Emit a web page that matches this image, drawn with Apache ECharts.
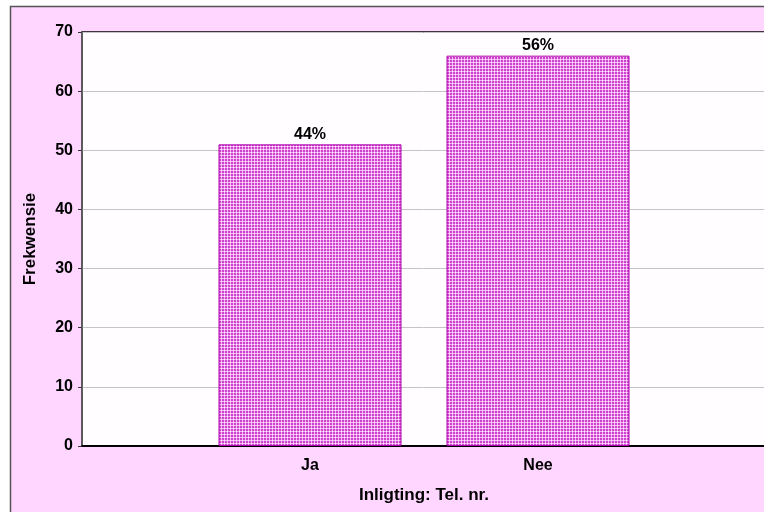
<!DOCTYPE html>
<html>
<head>
<meta charset="utf-8">
<script src="https://cdn.jsdelivr.net/npm/echarts@6/dist/echarts.min.js"></script>
<style>
  html, body { margin: 0; padding: 0; background: #ffffff; }
  #chart { width: 764px; height: 512px; }
</style>
</head>
<body>
<div id="chart"></div>
<script>
// Frequency of answers for "Inligting: Tel. nr."
const categories = ['', 'Ja', 'Nee', ''];
const frequencies = [null, 51, 66, null];
const yTicks = [0, 10, 20, 30, 40, 50, 60, 70];

const total = frequencies.reduce((s, v) => s + (v || 0), 0);

// Small checkered tile used as the bar fill
function makeTile() {
  const c = document.createElement('canvas');
  c.width = 3; c.height = 3;
  const ctx = c.getContext('2d');
  ctx.fillStyle = '#cc44cc';
  ctx.fillRect(0, 0, 3, 3);
  ctx.fillStyle = '#f2b4f2';
  ctx.fillRect(2, 0, 1, 3);
  ctx.fillRect(0, 2, 3, 1);
  ctx.fillStyle = '#ffe4ff';
  ctx.fillRect(2, 2, 1, 1);
  return c;
}

const chart = echarts.init(document.getElementById('chart'), null, { renderer: 'canvas' });

const font = 'Liberation Sans, Arial, sans-serif';

chart.setOption({
  animation: false,
  backgroundColor: '#ffffff',
  graphic: [{
    type: 'rect',
    z: -10,
    silent: true,
    shape: { x: 10.5, y: 6.5, width: 800, height: 600 },
    style: { fill: '#ffd6ff', stroke: '#555555', lineWidth: 1.5 }
  }],
  grid: {
    left: 82, top: 32, width: 684, height: 414,
    outerBoundsMode: 'none',
    containLabel: false,
    show: true, backgroundColor: '#fffdff',
    borderColor: '#000000', borderWidth: 1.5
  },
  xAxis: {
    type: 'category',
    data: categories,
    boundaryGap: false,
    name: 'Inligting: Tel. nr.',
    nameLocation: 'middle',
    nameGap: 41,
    nameTextStyle: { fontFamily: font, fontWeight: 'bold', fontSize: 17, color: '#000' },
    axisLine: { show: true, lineStyle: { color: '#000', width: 2 } },
    axisTick: {
      show: true, inside: true, length: 3,
      interval: (i, v) => v !== '',
      lineStyle: { color: '#555' }
    },
    axisLabel: {
      interval: 0, margin: 12,
      fontFamily: font, fontWeight: 'bold', fontSize: 16, color: '#000'
    },
    splitLine: { show: false }
  },
  yAxis: {
    type: 'value',
    min: 0, max: 70, interval: 10,
    name: 'Frekwensie',
    nameLocation: 'middle',
    nameGap: 43,
    nameTextStyle: { fontFamily: font, fontWeight: 'bold', fontSize: 17, color: '#000' },
    axisLine: { show: true, lineStyle: { color: '#666', width: 1.5 } },
    axisTick: { show: true, length: 4, lineStyle: { color: '#333' } },
    axisLabel: {
      margin: 9,
      fontFamily: font, fontWeight: 'bold', fontSize: 16, color: '#000',
      formatter: v => yTicks.includes(v) ? String(v) : ''
    },
    splitLine: { show: true, lineStyle: { color: '#c4c4c4', width: 1 } }
  },
  series: [{
    type: 'bar',
    data: frequencies,
    barWidth: 183,
    itemStyle: {
      color: { image: makeTile(), repeat: 'repeat' },
      borderColor: '#b000b0',
      borderWidth: 1
    },
    label: {
      show: true,
      position: 'top',
      distance: 2,
      fontFamily: font, fontWeight: 'bold', fontSize: 16, color: '#000',
      formatter: p => Math.round(p.value / total * 100) + '%'
    }
  }]
});
</script>
</body>
</html>
